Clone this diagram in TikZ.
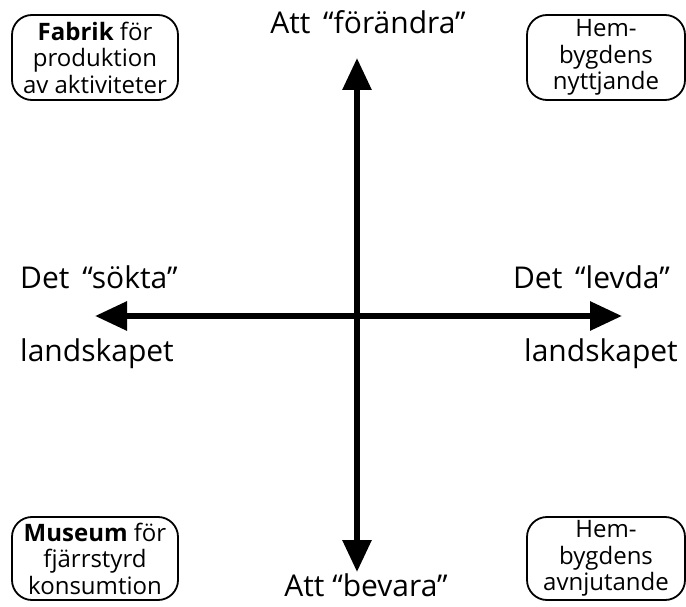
\documentclass[tikz,border=0pt]{standalone}
\usepackage{fontspec}
\setmainfont{Open Sans}
\usetikzlibrary{arrows.meta}
\begin{document}
\begin{tikzpicture}[x=1pt,y=-1pt,
  axis/.style={line width=6pt,{Triangle[length=32pt,width=28pt]}-{Triangle[length=32pt,width=28pt]}},
  lbl/.style={inner sep=0pt,font=\fontsize{30}{34}\selectfont},
  qbox/.style={draw,line width=1.8pt,rounded corners=20pt,inner sep=0pt,align=center,
    font=\fontsize{24}{26.5}\selectfont}]
\useasboundingbox (0,0) rectangle (686,607);
\coordinate (top) at (357,58);
\coordinate (bot) at (357,572);
\coordinate (lft) at (95,316);
\coordinate (rgt) at (622,316);
\draw[axis] (bot) -- (top);
\draw[axis] (lft) -- (rgt);
\node[lbl] (tl) at (368,22) {Att \,“förändra”};
\node[lbl] (bl) at (366,585) {Att “bevara”};
\node[lbl,anchor=west] (l1) at (20,277) {Det \,“sökta”};
\node[lbl,anchor=west] (l2) at (20,354) {landskapet};
\node[lbl,anchor=east] (r1) at (670,277) {Det \,“levda”};
\node[lbl,anchor=east] (r2) at (678,354) {landskapet};
\node[qbox,minimum width=166pt,minimum height=85pt] (b1) at (95,57.5) {\textbf{Fabrik} för\\produktion\\av aktiviteter};
\node[qbox,minimum width=158pt,minimum height=85pt] (b2) at (606,57.5) {Hem-\\bygdens\\nyttjande};
\node[qbox,minimum width=166pt,minimum height=83pt] (b3) at (95,558.5) {\textbf{Museum} för\\fjärrstyrd\\konsumtion};
\node[qbox,minimum width=158pt,minimum height=83pt] (b4) at (606,558.5) {Hem-\\bygdens\\avnjutande};
\end{tikzpicture}
\end{document}
